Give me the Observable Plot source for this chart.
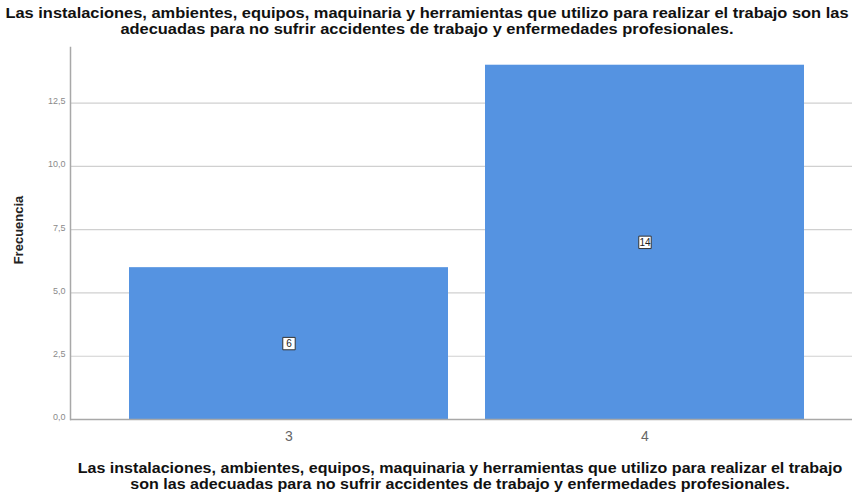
<!DOCTYPE html>
<html>
<head>
<meta charset="utf-8">
<script src="https://cdn.jsdelivr.net/npm/d3@7"></script>
<script src="https://cdn.jsdelivr.net/npm/@observablehq/plot@0.6"></script>
<style>
  html, body { margin: 0; padding: 0; background: #fff; }
  #wrap { position: relative; width: 852px; height: 495px; overflow: hidden; font-family: "Liberation Sans", Arial, sans-serif; }
  .ttl { position: absolute; width: 860px; text-align: center; font-weight: bold; font-size: 14.6px; line-height: 15.5px; color: #111; white-space: nowrap; transform: scaleX(1.125); transform-origin: 50% 50%; }
  #title { top: 6px; left: -3px; }
  #xtitle { top: 461px; left: 30px; transform: scaleX(1.1); }
  #ytitle { position: absolute; left: 18px; top: 230px; transform: translate(-50%, -50%) rotate(-90deg); font-weight: bold; font-size: 13px; color: #222; white-space: nowrap; }
</style>
</head>
<body>
<div id="wrap">
  <div id="chart"></div>
  <div id="title" class="ttl">Las instalaciones, ambientes, equipos, maquinaria y herramientas que utilizo para realizar el trabajo son las<br>adecuadas para no sufrir accidentes de trabajo y enfermedades profesionales.</div>
  <div id="xtitle" class="ttl">Las instalaciones, ambientes, equipos, maquinaria y herramientas que utilizo para realizar el trabajo<br>son las adecuadas para no sufrir accidentes de trabajo y enfermedades profesionales.</div>
  <div id="ytitle">Frecuencia</div>
</div>
<script>
const categories = ["3", "4"];
const frequencies = [6, 14];
const yTicks = [0, 2.5, 5, 7.5, 10, 12.5];
const yTickLabels = ["0,0", "2,5", "5,0", "7,5", "10,0", "12,5"];

const data = categories.map((c, i) => ({cat: c, n: frequencies[i]}));

const chart = Plot.plot({
  width: 852,
  height: 495,
  marginTop: 47,
  marginBottom: 76,
  marginLeft: 70,
  marginRight: 0,
  style: {background: "transparent", fontFamily: "Liberation Sans, Arial, sans-serif"},
  x: {domain: categories, range: [70, 862], paddingInner: 0.105, paddingOuter: 0.163, label: null},
  y: {domain: [0, 14.7], label: null},
  marks: [
    Plot.gridY(yTicks, {stroke: "#d0d0d0", strokeOpacity: 1, strokeWidth: 1.2}),
    Plot.barY(data, {x: "cat", y: "n", fill: "#5593e1"}),
    Plot.ruleY([0], {stroke: "#a8a8a8", strokeWidth: 1.5}),
    Plot.frame({anchor: "left", stroke: "#a8a8a8", strokeWidth: 1.5}),
    Plot.axisY(yTicks, {tickSize: 0, tickPadding: 5, tickFormat: (d, i) => yTickLabels[i], fontSize: 9, fill: "#8a8a8a", dy: -2}),
    Plot.axisX({tickSize: 0, tickPadding: 12, fontSize: 14, fill: "#666"}),
    Plot.dot(data, {x: "cat", y: d => d.n / 2, symbol: "square", r: 7, fill: "white", stroke: "#333", strokeWidth: 1}),
    Plot.text(data, {x: "cat", y: d => d.n / 2, text: d => String(d.n), fontSize: 10, fill: "#222"})
  ]
});
document.getElementById("chart").appendChild(chart);
</script>
</body>
</html>
